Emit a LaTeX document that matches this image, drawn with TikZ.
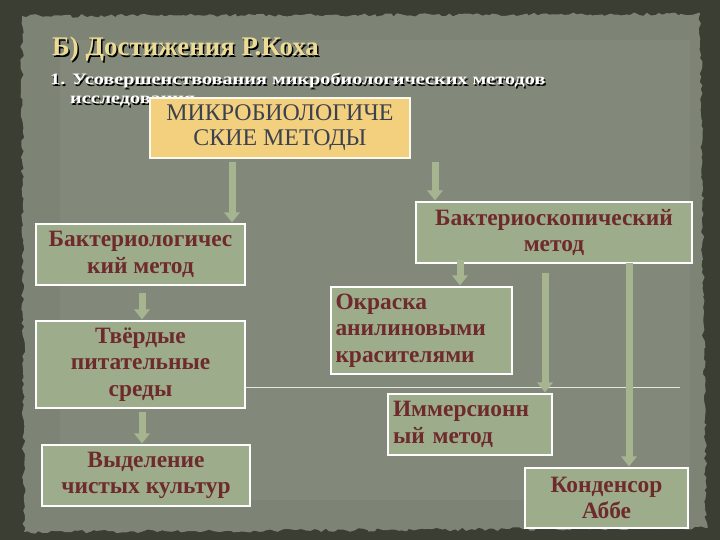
\documentclass[tikz,border=0pt]{standalone}
\usepackage{fontspec}
\setmainfont{Liberation Serif}
\newfontfamily\subwide[FakeStretch=1.27]{Liberation Serif}
\usetikzlibrary{arrows.meta,decorations.pathmorphing}
\definecolor{frame}{HTML}{3A3E33}
\definecolor{paper}{HTML}{7E8475}
\definecolor{boxfill}{HTML}{9DAD8B}
\definecolor{boxtext}{HTML}{6E2A2C}
\definecolor{yellowfill}{HTML}{F3D07E}
\definecolor{yellowtext}{HTML}{3C4150}
\definecolor{arrowgreen}{HTML}{A6B590}
\definecolor{titlecol}{HTML}{EBDB94}
\tikzset{
  gbox/.style={draw=white, line width=1.3bp, fill=boxfill, text=boxtext,
    font=\fontsize{23.5}{26.5}\selectfont\bfseries, align=center, inner sep=1bp},
  ybox/.style={draw=white!85!yellowfill, line width=1.3bp, fill=yellowfill, text=yellowtext,
    font=\fontsize{24}{25}\selectfont, align=center, inner sep=1bp},
  gshaft/.style={draw=arrowgreen, line width=7bp},
  titlefont/.style={font=\fontsize{27}{30}\selectfont\bfseries},
  subfont/.style={font=\subwide\fontsize{16}{18}\selectfont\bfseries},
}
\begin{document}
\begin{tikzpicture}[x=1bp,y=-1bp]
\useasboundingbox (0,0) rectangle (720,540);
\fill[frame] (0,0) rectangle (720,540);
\fill[paper, decorate, decoration={random steps,segment length=4bp,amplitude=1.8bp}]
  (22,16) -- (700,14) -- (706,528) -- (24,532) -- cycle;
\fill[paper!88!white, opacity=0.35] (60,40) rectangle (690,500);

% title
\node[anchor=base west, text=black, titlefont, inner sep=0] at (53.5,57.5) {Б) Достижения Р.Коха};
\node[anchor=base west, text=titlecol, titlefont, inner sep=0] (title) at (52,56) {Б) Достижения Р.Коха};
\node[anchor=base west, text=black, subfont, inner sep=0] at (51.3,86.3) {1. Усовершенствования микробиологических методов};
\node[anchor=base west, text=white, subfont, inner sep=0] (sub1) at (50,85) {1. Усовершенствования микробиологических методов};
\node[anchor=base west, text=black, subfont, inner sep=0] at (71.3,105.3) {исследования};
\node[anchor=base west, text=white, subfont, inner sep=0] (sub2) at (70,104) {исследования};

% separator line
\coordinate (lineend) at (680,387);

% nodes
\node[ybox, minimum width=260bp, minimum height=60bp] (micro) at (280,128) {МИКРОБИОЛОГИЧЕ\\СКИЕ  МЕТОДЫ};
\node[gbox, minimum width=209bp, minimum height=61bp] (bakt) at (140.5,254.5) {Бактериологичес\\кий метод};
\node[gbox, minimum width=209bp, minimum height=87bp] (tverd) at (140.5,364.5) {Твёрдые\\питательные\\среды};
\node[gbox, minimum width=208bp, minimum height=61bp] (vydel) at (146,475.5) {Выделение\\чистых культур};
\node[gbox, minimum width=276bp, minimum height=61bp] (bskop) at (554,232.5) {Бактериоскопический\\метод};
\node[gbox, minimum width=181bp, minimum height=87bp, align=left, text width=172bp] (okr) at (421.5,330.5) {Окраска\\анилиновыми\\красителями};
\node[gbox, minimum width=164bp, minimum height=61bp, align=left, text width=154bp] (imm) at (470,424.5) {Иммерсионн\\ый метод};
\node[gbox, minimum width=163bp, minimum height=60bp] (kond) at (606.5,498) {Конденсор\\Аббе};

\draw[white!80!paper, line width=1bp] (tverd.east |- lineend) -- (lineend);

% arrows
\coordinate (xa) at (232,0);
\coordinate (xb) at (435,0);
\coordinate (xc) at (142,0);
\coordinate (xd) at (460,0);
\coordinate (xe) at (545,0);
\coordinate (xf) at (629,0);
\foreach \x/\a/\b/\s in {xa/micro/bakt/3, xb/micro/bskop/3, xc/bakt/tverd/7, xc/tverd/vydel/3, xd/bskop/okr/-4, xe/bskop/imm/9, xf/bskop/kond/-1}{
  \draw[gshaft, shorten <=\s bp, shorten >=9bp] (\x |- \a.south) -- (\x |- \b.north);
  \fill[arrowgreen] ([yshift=11bp]\x |- \b.north) ++(-8bp,0) -- ++(16bp,0) -- ([yshift=1bp]\x |- \b.north) -- cycle;
}
\end{tikzpicture}
\end{document}
